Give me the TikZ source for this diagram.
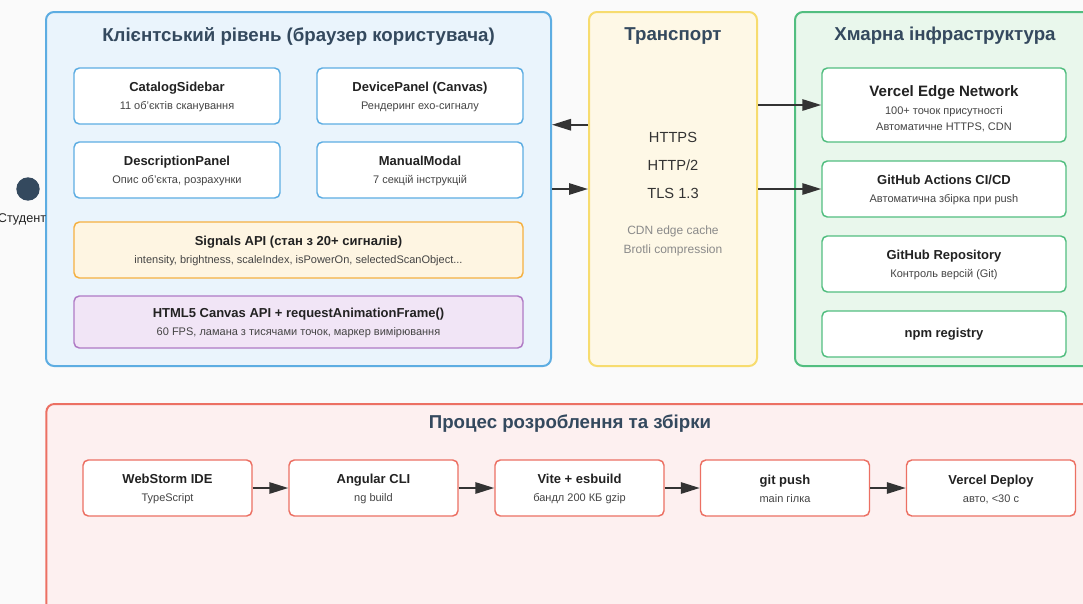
\documentclass[tikz,border=0pt]{standalone}
\usepackage{fontspec}
\setmainfont{Liberation Sans}
\usetikzlibrary{arrows.meta}
\definecolor{bgcolor}{HTML}{FAFAFA}
\definecolor{slate}{HTML}{34495E}
\definecolor{ink}{HTML}{222222}
\definecolor{subgrey}{HTML}{444444}
\definecolor{softgrey}{HTML}{8A8A8A}
\definecolor{arrowgrey}{HTML}{333333}
\definecolor{clientfill}{HTML}{EAF4FC}
\definecolor{clientline}{HTML}{5DADE2}
\definecolor{signalfill}{HTML}{FEF5E2}
\definecolor{signalline}{HTML}{F5B041}
\definecolor{canvasfill}{HTML}{F1E5F6}
\definecolor{canvasline}{HTML}{AF7AC5}
\definecolor{transfill}{HTML}{FEF8E6}
\definecolor{transline}{HTML}{F7DC6F}
\definecolor{cloudfill}{HTML}{E9F7EC}
\definecolor{cloudline}{HTML}{52BE80}
\definecolor{devfill}{HTML}{FDF0F0}
\definecolor{devline}{HTML}{EC7063}
\tikzset{
  layer/.style={rectangle,rounded corners=6pt,line width=1.5pt},
  card/.style={rectangle,rounded corners=4pt,line width=1.1pt,fill=white,align=center,font=\fontsize{8.25}{13.5}\selectfont,text=subgrey},
  zone/.style={font=\bfseries\fontsize{14}{16}\selectfont,text=slate},
  flow/.style={-{Triangle[length=14.25pt,width=8.5pt]},line width=1.5pt,draw=arrowgrey},
}
\newcommand\cardtext[2]{{\bfseries\fontsize{9.75}{13.5}\selectfont\color{ink}\rule{0pt}{9pt}#1}\\#2}
\begin{document}
\begin{tikzpicture}[x=0.75pt,y=-0.75pt]
\clip (0,0) rectangle (1083,604);
\fill[bgcolor] (0,0) rectangle (1083,604);
\node[layer,draw=clientline,fill=clientfill,minimum width=378.75pt,minimum height=265.5pt] (client) at (298.5,189) {};
\node[layer,draw=transline,fill=transfill,minimum width=126pt,minimum height=265.5pt] (trans) at (673,189) {};
\node[layer,draw=cloudline,fill=cloudfill,minimum width=225pt,minimum height=265.5pt] (cloud) at (945,189) {};
\node[layer,draw=devline,fill=devfill,minimum width=790pt,minimum height=165pt] (devproc) at (573,514) {};
\node[zone] (clienttitle) at (298.5,36) {Клієнтський рівень (браузер користувача)};
\node[zone] (transtitle) at (673,36) {Транспорт};
\node[zone] (cloudtitle) at (945,36) {Хмарна інфраструктура};
\node[zone] (devtitle) at (570,424) {Процес розроблення та збірки};
\node[card,draw=clientline,minimum width=154.5pt,minimum height=42pt] (catalog) at (177,96) {\cardtext{CatalogSidebar}{11 об'єктів сканування}};
\node[card,draw=clientline,minimum width=154.5pt,minimum height=42pt] (devpanel) at (420,96) {\cardtext{DevicePanel (Canvas)}{Рендеринг ехо-сигналу}};
\node[card,draw=clientline,minimum width=154.5pt,minimum height=42pt] (descpanel) at (177,170) {\cardtext{DescriptionPanel}{Опис об'єкта, розрахунки}};
\node[card,draw=clientline,minimum width=154.5pt,minimum height=42pt] (manual) at (420,170) {\cardtext{ManualModal}{7 секцій інструкцій}};
\node[card,draw=signalline,fill=signalfill,minimum width=336.75pt,minimum height=42pt] (signals) at (298.5,250) {\cardtext{Signals API (стан з 20+ сигналів)}{intensity, brightness, scaleIndex, isPowerOn, selectedScanObject...}};
\node[card,draw=canvasline,fill=canvasfill,minimum width=336.75pt,minimum height=39pt] (canvasapi) at (298.5,322) {\cardtext{HTML5 Canvas API + requestAnimationFrame()}{60 FPS, ламана з тисячами точок, маркер вимірювання}};
\node[align=center,text=arrowgrey,font=\fontsize{11}{21}\selectfont] (proto) at (673,165) {HTTPS\\HTTP/2\\TLS 1.3};
\node[align=center,text=softgrey,font=\fontsize{9}{14.25}\selectfont] (cdn) at (673,240.5) {CDN edge cache\\Brotli compression};
\node[card,draw=cloudline,minimum width=183pt,minimum height=55.5pt,font=\fontsize{8.25}{12}\selectfont] (edge) at (944,105) {{\bfseries\fontsize{11.3}{15.75}\selectfont\color{ink}\rule{0pt}{13.5pt}Vercel Edge Network}\\[1.5pt]100+ точок присутності\\Автоматичне HTTPS, CDN};
\node[card,draw=cloudline,minimum width=183pt,minimum height=42pt] (gha) at (944,189) {\cardtext{GitHub Actions CI/CD}{Автоматична збірка при push}};
\node[card,draw=cloudline,minimum width=183pt,minimum height=42pt] (repo) at (944,264) {\cardtext{GitHub Repository}{Контроль версій (Git)}};
\node[card,draw=cloudline,minimum width=183pt,minimum height=34.5pt] (npm) at (944,334) {{\bfseries\fontsize{9.75}{13.5}\selectfont\color{ink}npm registry}};
\node[card,draw=devline,minimum width=126.75pt,minimum height=42pt] (ide) at (167.5,488) {\cardtext{WebStorm IDE}{TypeScript}};
\node[card,draw=devline,minimum width=126.75pt,minimum height=42pt] (cli) at (373.5,488) {\cardtext{Angular CLI}{ng build}};
\node[card,draw=devline,minimum width=126.75pt,minimum height=42pt] (vite) at (579.5,488) {\cardtext{Vite + esbuild}{бандл 200 КБ gzip}};
\node[card,draw=devline,minimum width=126.75pt,minimum height=42pt] (push) at (785,488) {\cardtext{git push}{main гілка}};
\node[card,draw=devline,minimum width=126.75pt,minimum height=42pt] (deploy) at (991,488) {\cardtext{Vercel Deploy}{авто, <30 с}};
\node[circle,fill=slate,minimum size=17.5pt,inner sep=0pt] (student) at (28,189) {};
\node[text=ink,font=\fontsize{9.5}{11}\selectfont] (studentlabel) at (22,219) {Студент};
\draw[flow] (trans.west |- devpanel.south) -- (client.east |- devpanel.south);
\draw[flow] (client.east |- student) -- (trans.west |- student);
\draw[flow] (trans.east |- edge) -- (edge.west);
\draw[flow] (trans.east |- gha) -- (gha.west);
\foreach \a/\b in {ide/cli,cli/vite,vite/push,push/deploy}
  \draw[flow] (\a) -- (\b);
\end{tikzpicture}
\end{document}
